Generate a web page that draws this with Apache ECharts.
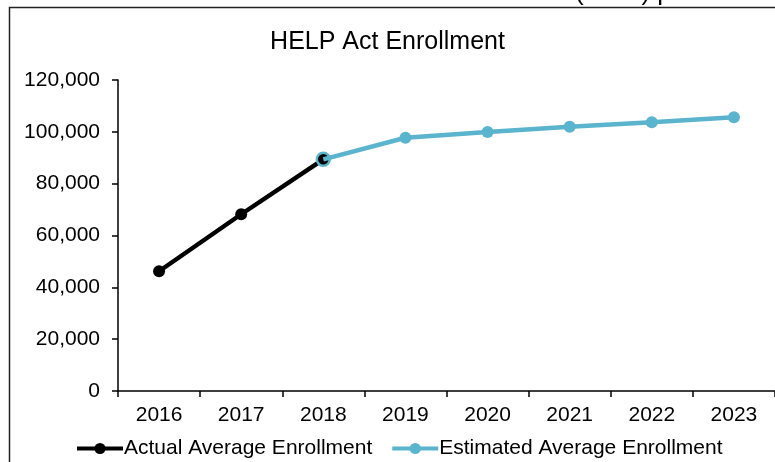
<!DOCTYPE html>
<html>
<head>
    <meta charset="utf-8">
    <title>HELP Act Enrollment</title>
    <script src="https://cdn.jsdelivr.net/npm/echarts@6/dist/echarts.min.js"></script>
    <style>
        html, body { margin: 0; padding: 0; background: #fff; }
        #main { width: 775px; height: 462px; }
    </style>
</head>
<body>
<div id="main"></div>
<script>
    // data
    var years = ['2016', '2017', '2018', '2019', '2020', '2021', '2022', '2023'];
    var actualEnrollment = [46200, 68200, 89400, '-', '-', '-', '-', '-'];
    var estimatedEnrollment = ['-', '-', 89400, 97700, 99900, 102000, 103700, 105600];
    var yTicks = [0, 20000, 40000, 60000, 80000, 100000, 120000];

    var font = 'Liberation Sans, Arial, sans-serif';
    var blue = '#5AB4CE';

    // 2018 point of the estimate is drawn as a ring over the black dot
    var estData = estimatedEnrollment.map(function (v, i) {
        if (i == 2) {
            return {value: v, symbolSize: 13, itemStyle: {color: 'rgba(0,0,0,0)', borderColor: blue, borderWidth: 2.5}};
        }
        return v;
    });

    var myChart = echarts.init(document.getElementById('main'));
    myChart.setOption({
        animation: false,
        backgroundColor: '#fff',
        title: {
            text: 'HELP Act Enrollment',
            left: 'center',
            top: 25,
            textStyle: {fontFamily: font, fontSize: 25, fontWeight: 'normal', color: '#000'}
        },
        graphic: [
            // frame of the chart box
            {type: 'rect', shape: {x: 9.5, y: 7.5, width: 800, height: 500},
                style: {fill: 'none', stroke: '#222', lineWidth: 1.5}, z: -1},
            // cropped line of the page text above the chart
            {type: 'text', x: 572, y: -7.5,
                style: {text: 'The Centers for Medicare and Medicaid Services', fontFamily: font, fontSize: 26,
                    fill: '#000', align: 'right', verticalAlign: 'middle'}},
            {type: 'text', x: 575, y: -7.5,
                style: {text: '(CMS) provides funding', fontFamily: font, fontSize: 26,
                    fill: '#000', align: 'left', verticalAlign: 'middle'}}
        ],
        legend: {
            left: 70,
            top: 433,
            itemWidth: 46,
            itemHeight: 14,
            itemGap: 18,
            lineStyle: {width: 4},
            textStyle: {fontFamily: font, fontSize: 21, color: '#000', padding: [0, 0, 0, -4]},
            data: ['Actual Average Enrollment', 'Estimated Average Enrollment']
        },
        grid: {
            left: 118,
            top: 80,
            width: 659,
            height: 311
        },
        xAxis: {
            type: 'category',
            data: years,
            boundaryGap: true,
            axisLine: {lineStyle: {color: '#000', width: 1.5}},
            axisTick: {show: true, length: 6, lineStyle: {color: '#000', width: 1.5}},
            axisLabel: {fontFamily: font, fontSize: 21, color: '#000', margin: 14},
            splitLine: {show: false}
        },
        yAxis: {
            type: 'value',
            min: yTicks[0],
            max: yTicks[yTicks.length - 1],
            interval: yTicks[1] - yTicks[0],
            axisLine: {show: true, lineStyle: {color: '#000', width: 1.5}},
            axisTick: {show: true, length: 6, lineStyle: {color: '#000', width: 1.5}},
            axisLabel: {
                fontFamily: font, fontSize: 21, color: '#000', margin: 18,
                formatter: function (v) {
                    return v.toString().replace(/\B(?=(\d{3})+(?!\d))/g, ',');
                }
            },
            splitLine: {show: false}
        },
        series: [
            {
                name: 'Actual Average Enrollment',
                type: 'line',
                data: actualEnrollment,
                symbol: 'circle',
                symbolSize: 12,
                color: '#000',
                lineStyle: {color: '#000', width: 4.5},
                itemStyle: {color: '#000'},
                z: 2
            },
            {
                name: 'Estimated Average Enrollment',
                type: 'line',
                data: estData,
                symbol: 'circle',
                symbolSize: 12,
                color: blue,
                lineStyle: {color: blue, width: 4.5},
                itemStyle: {color: blue},
                z: 3
            }
        ]
    });
</script>
</body>
</html>
